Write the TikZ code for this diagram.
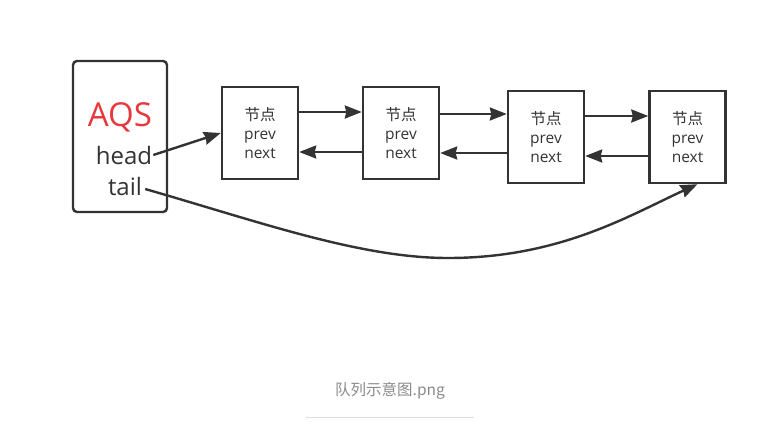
\documentclass[tikz,border=0pt]{standalone}
\usepackage{fontspec}
\setmainfont{Open Sans}
\newfontfamily\cjk{Noto Sans CJK SC}
\usetikzlibrary{arrows.meta}
\definecolor{linegray}{HTML}{333333}
\definecolor{aqsred}{HTML}{E8383D}
\definecolor{captgray}{HTML}{8A8A8A}
\definecolor{rulegray}{HTML}{DDDDDD}

\begin{document}
\begin{tikzpicture}[x=1pt,y=-1pt,
	qnode/.style={draw=linegray, line width=2.4pt, minimum width=76pt, minimum height=92pt,
		align=center, text=linegray, font=\fontsize{15.5}{19}\selectfont},
	arr/.style={draw=linegray, line width=2.4pt, -{Stealth[length=17pt,width=13pt,inset=1.5pt]}},
	aqstext/.style={inner sep=0pt, text=linegray, font=\fontsize{24}{28}\selectfont}
	]
	% We will draw the queue here
	\useasboundingbox (0,0) rectangle (780,424);
	
	% AQS box
	\node[draw=linegray, line width=2.4pt, rounded corners=4pt, minimum width=94pt, minimum height=151pt] (aqs) at (120,136.5) {};
	\node[inner sep=0pt, text=aqsred, font=\fontsize{33}{36}\selectfont] (aqsname) at (120,117) {AQS};
	\node[aqstext] (head) at (124,155) {head};
	\node[aqstext] (tail) at (125,186) {tail};
	
	% queue nodes
	\node[qnode] (n1) at (260,133) {{\cjk 节点}\\prev\\next};
	\node[qnode] (n2) at (401,133) {{\cjk 节点}\\prev\\next};
	\node[qnode] (n3) at (546,137) {{\cjk 节点}\\prev\\next};
	\node[qnode] (n4) at (687.5,137) {{\cjk 节点}\\prev\\next};
	
	% next / prev links
	\draw[arr] ([yshift=21pt]n1.east) -- ([yshift=21pt]n1.east -| n2.west);
	\draw[arr] ([yshift=-19pt]n2.west) -- ([yshift=-19pt]n2.west -| n1.east);
	\draw[arr] ([yshift=19pt]n2.east) -- ([yshift=19pt]n2.east -| n3.west);
	\draw[arr] ([yshift=-16pt]n3.west) -- ([yshift=-16pt]n3.west -| n2.east);
	\draw[arr] ([yshift=21pt]n3.east) -- ([yshift=21pt]n3.east -| n4.west);
	\draw[arr] ([yshift=-19pt]n4.west) -- ([yshift=-19pt]n4.west -| n3.east);
	
	% head and tail
	\draw[arr] ([xshift=1pt]head.east) -- (n1.west);
	\draw[arr] ([xshift=3pt,yshift=-3pt]tail.east) .. controls (260,222) and (360,258) .. (448,258)
		.. controls (560,258) and (630,215) .. ([xshift=10pt]n4.south);
	
	% caption
	\node[text=captgray, font=\cjk\fontsize{15.5}{18}\selectfont] (capt) at (390,391) {队列示意图.png};
	\draw[rulegray, line width=1pt] (306,417) -- (474,417);
\end{tikzpicture}
\end{document}
